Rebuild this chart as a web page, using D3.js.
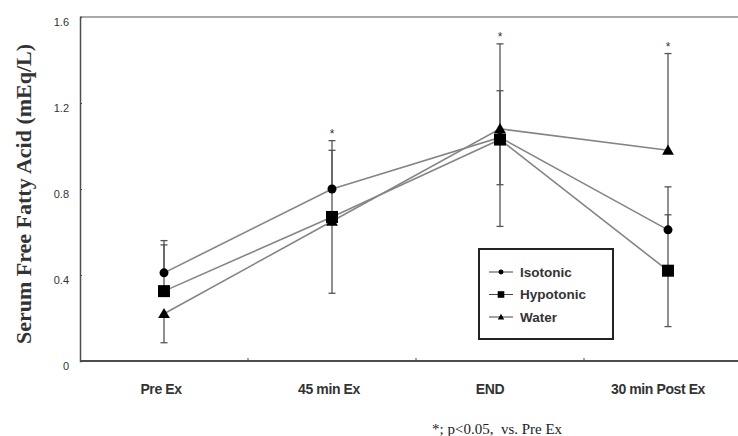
<!DOCTYPE html>
<html>
<head>
<meta charset="utf-8">
<script src="https://cdn.jsdelivr.net/npm/d3@7"></script>
<style>
  body { margin: 0; background: #fff; }
  svg { display: block; }
</style>
</head>
<body>
<div id="chart"></div>
<script>
// categories and values
const timepoints = ["Pre Ex", "45 min Ex", "END", "30 min Post Ex"];
const yTicks = [0, 0.4, 0.8, 1.2, 1.6];

const isotonic = [0.41, 0.80, 1.04, 0.61];
const hypotonic = [0.325, 0.67, 1.03, 0.42];
const water = [0.22, 0.65, 1.08, 0.98];

// error bar ends (upper / lower), null where none is drawn
const isotonicHi = [0.56, 1.025, null, 0.81];
const isotonicLo = [null, null, 0.82, null];
const hypotonicHi = [0.54, 0.98, 1.257, 0.68];
const hypotonicLo = [null, null, 0.626, 0.16];
const waterHi = [null, null, 1.475, 1.43];
const waterLo = [0.085, 0.315, null, null];

const significant = [false, true, true, true];

const series = [
    { name: "Isotonic", shape: "circle", values: isotonic, hi: isotonicHi, lo: isotonicLo },
    { name: "Hypotonic", shape: "square", values: hypotonic, hi: hypotonicHi, lo: hypotonicLo },
    { name: "Water", shape: "triangle", values: water, hi: waterHi, lo: waterLo }
];

const W = 738, H = 436;
const svg = d3.select("#chart").append("svg")
    .attr("width", W)
    .attr("height", H);

let x = d3.scaleBand()
    .domain(timepoints)
    .range([80, 752]);
let y = d3.scaleLinear()
    .domain([0, 1.6])
    .range([361, 17]);

const lineColor = "#858585", axisColor = "#4d4d4d";

// top border
svg.append("line")
    .attr("x1", 80).attr("x2", W)
    .attr("y1", y(1.6)).attr("y2", y(1.6))
    .attr("stroke", "#8c8c8c")
    .attr("stroke-width", 1.5);

// y axis
let axisY = d3.axisRight(y)
    .tickValues(yTicks)
    .tickSize(2)
    .tickFormat(d => d === 0 ? "0" : d3.format(".1f")(d));
let gy = svg.append("g")
    .attr("transform", "translate(80,0)")
    .call(axisY);
gy.select(".domain").attr("stroke", axisColor).attr("stroke-width", 1.5);
gy.selectAll(".tick line").attr("stroke", axisColor);
gy.selectAll(".tick text")
    .attr("x", -11)
    .attr("dy", "0.75em")
    .attr("text-anchor", "end")
    .attr("font-family", "Liberation Sans, Arial, sans-serif")
    .attr("font-size", 11)
    .attr("fill", "#333");

// x axis
svg.append("line")
    .attr("x1", 80).attr("x2", W)
    .attr("y1", y(0)).attr("y2", y(0))
    .attr("stroke", axisColor)
    .attr("stroke-width", 2);
svg.selectAll(".xtick")
    .data(timepoints.slice(1))
    .enter().append("line")
    .attr("class", "xtick")
    .attr("x1", d => x(d)).attr("x2", d => x(d))
    .attr("y1", y(0)).attr("y2", y(0) - 3)
    .attr("stroke", axisColor);
svg.selectAll(".xlabel")
    .data(timepoints)
    .enter().append("text")
    .attr("class", "xlabel")
    .attr("x", (d, i) => x(d) + x.bandwidth() / 2 - (i < 2 ? 3 : 10))
    .attr("y", 394)
    .attr("text-anchor", "middle")
    .attr("font-family", "Liberation Sans, Arial, sans-serif")
    .attr("font-weight", "bold")
    .attr("font-size", 14)
    .attr("letter-spacing", -0.4)
    .attr("fill", "#333")
    .text(d => d);

// y title
svg.append("text")
    .attr("transform", `translate(31, 194) rotate(-90)`)
    .attr("text-anchor", "middle")
    .attr("font-family", "Liberation Serif, Times New Roman, serif")
    .attr("font-weight", "bold")
    .attr("font-size", 22)
    .attr("fill", "#333")
    .text("Serum Free Fatty Acid (mEq/L)");

// footnote
svg.append("text")
    .attr("x", 432)
    .attr("y", 434)
    .attr("font-family", "Liberation Serif, Times New Roman, serif")
    .attr("font-size", 15)
    .attr("fill", "#222")
    .attr("xml:space", "preserve")
    .text("*; p<0.05,  vs. Pre Ex");

const cx = d => x(d) + x.bandwidth() / 2;

// error bars
const bars = svg.append("g");
series.forEach(s => {
    timepoints.forEach((t, i) => {
        [s.hi[i], s.lo[i]].forEach(end => {
            if (end === null) return;
            bars.append("line")
                .attr("x1", cx(t)).attr("x2", cx(t))
                .attr("y1", y(s.values[i])).attr("y2", y(end))
                .attr("stroke", "#555")
                .attr("stroke-width", 1.3);
            bars.append("line")
                .attr("x1", cx(t) - 3.5).attr("x2", cx(t) + 3.5)
                .attr("y1", y(end)).attr("y2", y(end))
                .attr("stroke", "#555")
                .attr("stroke-width", 1.3);
        });
    });
});

// asterisks
svg.selectAll(".star")
    .data(timepoints.filter((t, i) => significant[i]))
    .enter().append("text")
    .attr("class", "star")
    .attr("x", d => cx(d))
    .attr("y", d => {
        let i = timepoints.indexOf(d);
        let top = d3.max(series, s => Math.max(s.values[i], s.hi[i] || 0));
        return y(top) - 3;
    })
    .attr("text-anchor", "middle")
    .attr("font-family", "Liberation Sans, Arial, sans-serif")
    .attr("font-size", 12)
    .attr("fill", "#333")
    .text("*");

// lines
const line = d3.line()
    .x((d, i) => cx(timepoints[i]))
    .y(d => y(d));
series.forEach(s => {
    svg.append("path")
        .attr("d", line(s.values))
        .attr("fill", "none")
        .attr("stroke", lineColor)
        .attr("stroke-width", 1.6);
});

function marker(g, shape, px, py, scale) {
    if (shape === "circle") {
        g.append("circle").attr("cx", px).attr("cy", py).attr("r", 4.5 * scale).attr("fill", "#000");
    } else if (shape === "square") {
        let s = 12 * scale;
        g.append("rect").attr("x", px - s / 2).attr("y", py - s / 2)
            .attr("width", s).attr("height", s).attr("fill", "#000");
    } else {
        g.append("path")
            .attr("transform", `translate(${px},${py + 1 * scale})`)
            .attr("d", d3.symbol().type(d3.symbolTriangle).size(60 * scale * scale))
            .attr("fill", "#000");
    }
}

const marks = svg.append("g");
series.forEach(s => {
    s.values.forEach((v, i) => marker(marks, s.shape, cx(timepoints[i]), y(v), 1));
});

// legend
const legend = svg.append("g");
legend.append("rect")
    .attr("x", 479).attr("y", 249)
    .attr("width", 134).attr("height", 90)
    .attr("fill", "#fff")
    .attr("stroke", "#222")
    .attr("stroke-width", 2);
series.forEach((s, i) => {
    let ly = 272 + i * 22.5;
    legend.append("line")
        .attr("x1", 489).attr("x2", 513)
        .attr("y1", ly).attr("y2", ly)
        .attr("stroke", "#444")
        .attr("stroke-width", 1);
    marker(legend, s.shape, 501, ly, 0.55);
    legend.append("text")
        .attr("x", 520)
        .attr("y", ly + 4.5)
        .attr("font-family", "Liberation Sans, Arial, sans-serif")
        .attr("font-weight", "bold")
        .attr("font-size", 13.5)
        .attr("fill", "#333")
        .text(s.name);
});
</script>
</body>
</html>
